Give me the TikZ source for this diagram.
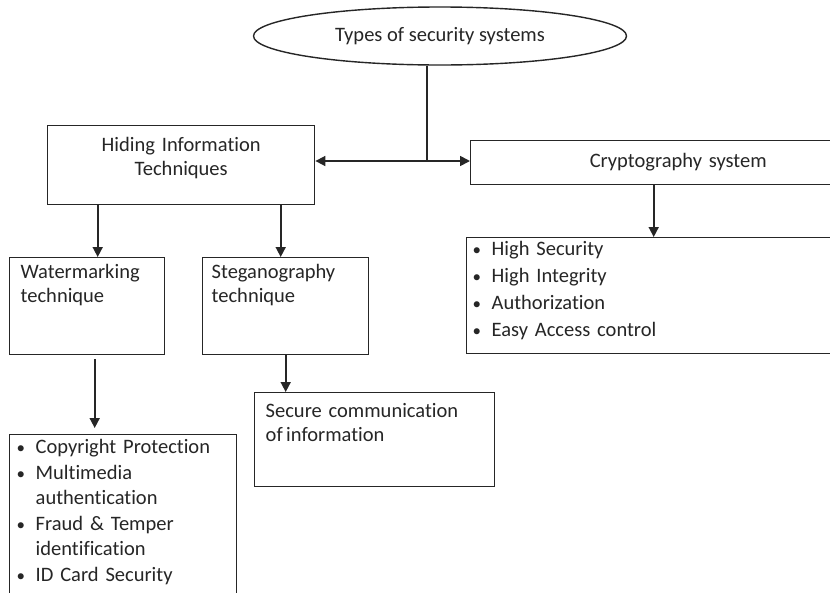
\documentclass[tikz,border=0pt]{standalone}
\usepackage{fontspec}
\setmainfont{Carlito}[Ligatures=NoCommon]
\usepackage{tikz}
\usetikzlibrary{positioning}
\usetikzlibrary{shapes.geometric}
\usetikzlibrary{arrows.meta}

\definecolor{inkgray}{RGB}{38,38,38}

\tikzset{
  box/.style={draw=inkgray, line width=1.4pt, anchor=north west, inner ysep=0pt, align=left},
  arr/.style={draw=inkgray, line width=1.7pt, -{Triangle[length=10pt,width=10pt]}},
}
\newcommand{\itm}{\makebox[15pt][l]{\hspace*{-4pt}{\fontsize{17}{17}\selectfont\textbullet}}}
\newcommand{\cnt}{\hspace*{15pt}}

\begin{document}
\begin{tikzpicture}[x=1pt,y=-1pt, font=\fontsize{20.5}{24}\selectfont, text=inkgray]
        \useasboundingbox (0,0) rectangle (830,592);
        \fill[white] (0,0) rectangle (830,592);

        \node[ellipse, draw=inkgray, line width=1.4pt, minimum width=373pt, minimum height=58pt, inner sep=0pt] (types) at (440,36) {Types of security systems};
        \coordinate (junc) at (427,161);

        \node[box, align=center, inner xsep=0pt, text width=267pt, text height=26pt, text depth=53pt] (hiding) at (47,125) {Hiding Information\\Techniques};
        \node[box, align=center, inner xsep=0pt, text width=415pt, text height=27pt, text depth=17pt] (crypto) at (470,140) {Cryptography system};

        \node[box, inner xsep=10pt, text width=399pt, text height=18pt, text depth=98pt, font=\fontsize{20.5}{27}\selectfont] (cryptolist) at (466,237)
            {\itm High Security\\ \itm High Integrity\\ \itm Authorization\\ \itm Easy Access control};

        \node[box, inner xsep=11pt, text width=133pt, text height=21pt, text depth=76pt] (wm) at (9,257) {Watermarking\\technique};
        \node[box, inner xsep=9pt, text width=148pt, text height=21pt, text depth=76pt] (steg) at (202,257) {Steganography\\technique};

        \node[box, inner xsep=11pt, text width=218pt, text height=25pt, text depth=69pt] (secure) at (254,392) {Secure communication\\of\,information};

        \node[box, inner xsep=11pt, text width=205pt, text height=19pt, text depth=170pt, font=\fontsize{20.5}{25.5}\selectfont] (wmlist) at (9,434)
            {\itm Copyright Protection\\ \itm Multimedia\\ \cnt authentication\\ \itm Fraud \& Temper\\ \cnt identification\\ \itm ID Card Security};

        % connectors
        \draw[draw=inkgray, line width=1.7pt] (junc |- types.south) -- (junc);
        \draw[arr] (junc) -- (junc -| hiding.east);
        \draw[arr] (junc) -- (junc -| crypto.west);
        \draw[arr] ([xshift=-24.5pt]crypto.south) -- ([xshift=-24.5pt]crypto.south |- cryptolist.north);
        \draw[arr] ([xshift=10.5pt]wm.north |- hiding.south) -- ([xshift=10.5pt]wm.north);
        \draw[arr] ([xshift=-5pt]steg.north |- hiding.south) -- ([xshift=-5pt]steg.north);
        \draw[arr, shorten <=4pt, shorten >=6pt] ([xshift=7.5pt]wm.south) -- ([xshift=7.5pt]wm.south |- wmlist.north);
        \draw[arr] (steg.south) -- (steg.south |- secure.north);
    \end{tikzpicture}
\end{document}
